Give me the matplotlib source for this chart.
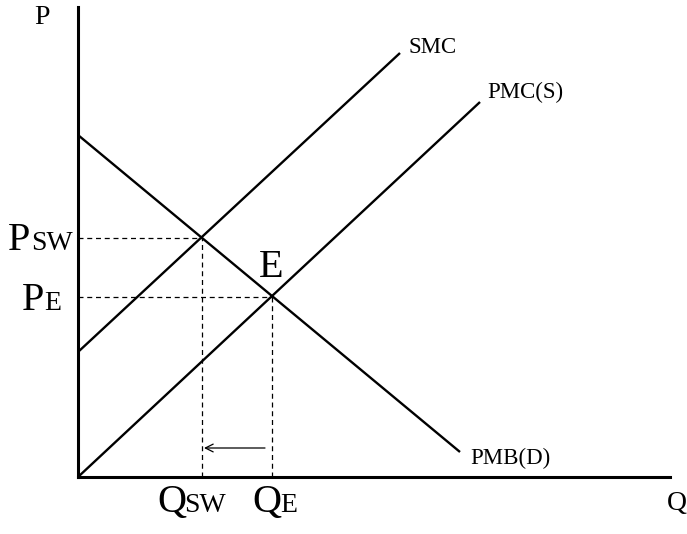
import matplotlib
matplotlib.use("Agg")
import matplotlib.pyplot as plt

# courbes (coordonnées, origine = intersection des axes)
pmb_x = [0, 382]
pmb_y = [342, 25]
smc_x = [0, 322]
smc_y = [125, 424]
pmc_x = [0, 402]
pmc_y = [0, 375]

# points d'équilibre
q_sw, p_sw = 124, 239
q_e, p_e = 194, 180

# flèche Q_E -> Q_SW
fleche_y = 29

x_max, y_max = 592, 470

plt.rcParams['font.family'] = ['Liberation Serif', 'DejaVu Serif']

fig = plt.figure(figsize=(6.87, 5.34), dpi=100)
ax = fig.add_axes([78 / 687, 57 / 534, x_max / 687, y_max / 534])
ax.set_xlim(0, x_max)
ax.set_ylim(0, y_max)
for s in ['top', 'right']:
    ax.spines[s].set_visible(False)
for s in ['left', 'bottom']:
    ax.spines[s].set_linewidth(2.2)
ax.set_xticks([])
ax.set_yticks([])

ax.plot(pmb_x, pmb_y, color='black', lw=1.7, solid_capstyle='butt')
ax.plot(smc_x, smc_y, color='black', lw=1.7, solid_capstyle='butt')
ax.plot(pmc_x, pmc_y, color='black', lw=1.7, solid_capstyle='butt')

# pointillés
ax.plot([0, q_sw], [p_sw, p_sw], color='black', lw=0.9, ls=(0, (4, 3)))
ax.plot([q_sw, q_sw], [0, p_sw], color='black', lw=0.9, ls=(0, (4, 3)))
ax.plot([0, q_e], [p_e, p_e], color='black', lw=0.9, ls=(0, (4, 3)))
ax.plot([q_e, q_e], [0, p_e], color='black', lw=0.9, ls=(0, (4, 3)))

ax.annotate('', xy=(q_sw + 2, fleche_y), xytext=(q_e - 7, fleche_y),
            arrowprops=dict(arrowstyle='->', color='black', lw=0.9,
                            mutation_scale=14, shrinkA=0, shrinkB=0))

# étiquettes
big = 29
small = 20
ax.text(-36, 459, 'P', fontsize=20, ha='center', va='center')
ax.text(-70, 227, 'P', fontsize=big, ha='left', va='baseline')
ax.text(-47, 227, 'SW', fontsize=small, ha='left', va='baseline')
ax.text(-56, 167, 'P', fontsize=big, ha='left', va='baseline')
ax.text(-34, 167, 'E', fontsize=small, ha='left', va='baseline')
ax.text(79, -35, 'Q', fontsize=big, ha='left', va='baseline')
ax.text(106, -35, 'SW', fontsize=small, ha='left', va='baseline')
ax.text(174, -35, 'Q', fontsize=big, ha='left', va='baseline')
ax.text(202, -35, 'E', fontsize=small, ha='left', va='baseline')
ax.text(193, 200, 'E', fontsize=big, ha='center', va='baseline')

ax.text(330, 424, 'SMC', fontsize=16.5, ha='left', va='baseline')
ax.text(409, 379, 'PMC(S)', fontsize=16.5, ha='left', va='baseline')
ax.text(392, 13, 'PMB(D)', fontsize=16.5, ha='left', va='baseline')
ax.text(599, -33, 'Q', fontsize=20, ha='center', va='baseline')

fig.savefig('out.png', dpi=100)
